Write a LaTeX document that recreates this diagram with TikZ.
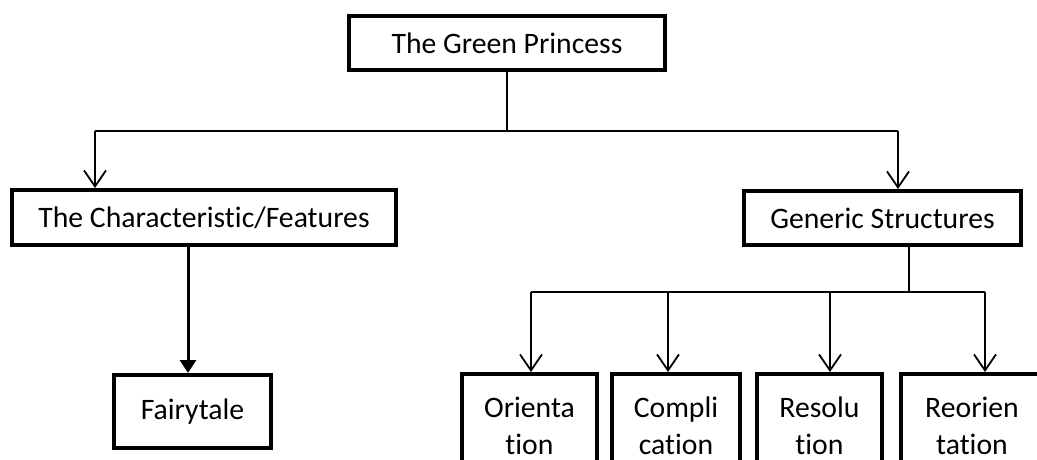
\documentclass[tikz,border=0pt]{standalone}
\usepackage{fontspec}
\setmainfont{Carlito}[Ligatures=NoCommon]
\usetikzlibrary{arrows.meta}
\begin{document}
\begin{tikzpicture}[x=1pt,y=-1pt,
  box/.style={draw, line width=4pt, inner sep=0pt, align=center,
    font=\fontsize{29.7}{37}\selectfont},
  conn/.style={line width=1.8pt},
  openarr/.style={conn, -{Straight Barb[length=16pt,width=22pt,line width=1.8pt]}},
  fillarr/.style={line width=3pt, -{Triangle[length=13pt,width=16pt]}}]
\clip (0,0) rectangle (1037,460);
\fill[white] (0,0) rectangle (1037,460);
% top level
\node[box, minimum width=316pt, minimum height=54pt] (green) at (507,43) {The Green Princess};
\node[box, minimum width=384pt, minimum height=55pt] (char) at (204,217.5) {The Characteristic/Features};
\node[box, minimum width=277pt, minimum height=54pt] (gen) at (882.5,218) {Generic Structures};
\node[box, minimum width=157pt, minimum height=73pt] (fairy) at (192.5,411.5) {Fairytale};
% lower boxes
\node[box, minimum width=135pt, minimum height=104pt] (ori) at (529.5,426) {Orienta\\tion};
\node[box, minimum width=128pt, minimum height=104pt] (comp) at (676,426) {Compli\\cation};
\node[box, minimum width=125pt, minimum height=104pt] (res) at (819.5,426) {Resolu\\tion};
\node[box, minimum width=142pt, minimum height=104pt] (reo) at (972,426) {Reorien\\tation};
% connectors from the title
\coordinate (tj) at (507,131);
\coordinate (tl) at (95,131);
\coordinate (tr) at (898,131);
\draw[conn] (green.south) -- (tj);
\draw[conn] (tl) -- (tr);
\draw[openarr] (tl) -- (tl |- char.north);
\draw[openarr] (tr) -- (tr |- gen.north);
% characteristic to fairytale
\coordinate (cf) at (188,247);
\draw[fillarr] (cf |- char.south) -- (cf |- fairy.north);
% generic structures to the parts
\coordinate (gj) at (909,292);
\coordinate (g1) at (531,292);
\coordinate (g2) at (668,292);
\coordinate (g3) at (830,292);
\coordinate (g4) at (985,292);
\draw[conn] (gj |- gen.south) -- (gj);
\draw[conn] (g1) -- (g4);
\draw[openarr] (g1) -- (g1 |- ori.north);
\draw[openarr] (g2) -- (g2 |- comp.north);
\draw[openarr] (g3) -- (g3 |- res.north);
\draw[openarr] (g4) -- (g4 |- reo.north);
\end{tikzpicture}
\end{document}
